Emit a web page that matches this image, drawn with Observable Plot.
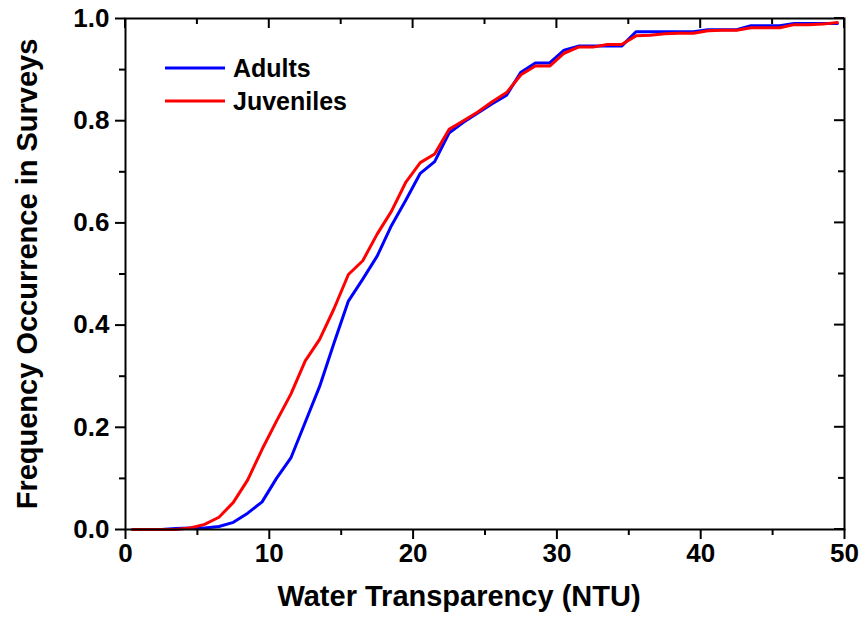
<!DOCTYPE html>
<html><head><meta charset="utf-8">
<script src="https://cdn.jsdelivr.net/npm/d3@7"></script>
<script src="https://cdn.jsdelivr.net/npm/@observablehq/plot@0.6"></script>
<style>body{margin:0;background:#fff;}</style>
</head><body><div id="chart"></div>
<script>
// Water transparency (NTU) bin centres
const ntu = [0.5,1.5,2.5,3.5,4.5,5.5,6.5,7.5,8.5,9.5,10.5,11.5,12.5,13.5,14.5,15.5,16.5,17.5,18.5,19.5,
  20.5,21.5,22.5,23.5,24.5,25.5,26.5,27.5,28.5,29.5,30.5,31.5,32.5,33.5,34.5,35.5,36.5,37.5,38.5,39.5,
  40.5,41.5,42.5,43.5,44.5,45.5,46.5,47.5,48.5,49.5];
// cumulative frequency occurrence, adults
const adults = [0,0,0,0.002,0.003,0.003,0.006,0.014,0.032,0.054,0.10,0.14,0.21,0.28,0.365,0.447,0.49,0.535,0.595,0.645,
  0.697,0.72,0.776,0.797,0.815,0.833,0.85,0.895,0.913,0.913,0.938,0.946,0.946,0.946,0.946,0.974,0.974,0.974,0.974,0.974,
  0.978,0.978,0.978,0.986,0.986,0.986,0.99,0.99,0.99,0.99];
// cumulative frequency occurrence, juveniles
const juveniles = [0,0,0,0,0.003,0.01,0.024,0.053,0.097,0.157,0.212,0.265,0.33,0.372,0.432,0.499,0.526,0.578,0.623,0.68,
  0.718,0.735,0.783,0.80,0.817,0.837,0.855,0.89,0.907,0.907,0.932,0.944,0.944,0.949,0.949,0.966,0.967,0.97,0.971,0.971,
  0.976,0.977,0.977,0.982,0.982,0.982,0.988,0.988,0.989,0.992];
const seriesNames = ["Adults", "Juveniles"];
const seriesColors = ["#0000ff", "#ff0000"];
const xMajor = [0, 10, 20, 30, 40, 50];
const xMinor = [5, 15, 25, 35, 45];
const yMajor = [0, 0.2, 0.4, 0.6, 0.8, 1.0];
const yMinor = [0.1, 0.3, 0.5, 0.7, 0.9];
const xTitle = "Water Transparency (NTU)";
const yTitle = "Frequency Occurrence in Surveys";

const seriesValues = [adults, juveniles];
const rows = seriesNames.flatMap((s, k) => ntu.map((x, i) => ({series: s, ntu: x, value: seriesValues[k][i]})));

const font = "'Liberation Sans', Arial, sans-serif";

// inward ticks on top/right and in-plot legend, drawn through the plot scales
function extras(index, scales, values, dimensions) {
  const {width, height, marginTop, marginRight, marginBottom, marginLeft} = dimensions;
  const g = d3.create("svg:g").attr("stroke", "black").attr("stroke-width", 2);
  const top = marginTop, right = width - marginRight;
  for (const v of xMajor) g.append("line").attr("x1", scales.x(v)).attr("x2", scales.x(v)).attr("y1", top).attr("y2", top + 10);
  for (const v of xMinor) g.append("line").attr("x1", scales.x(v)).attr("x2", scales.x(v)).attr("y1", top).attr("y2", top + 6);
  for (const v of yMajor) g.append("line").attr("y1", scales.y(v)).attr("y2", scales.y(v)).attr("x1", right).attr("x2", right - 10);
  for (const v of yMinor) g.append("line").attr("y1", scales.y(v)).attr("y2", scales.y(v)).attr("x1", right).attr("x2", right - 6);
  const lg = d3.create("svg:g");
  seriesNames.forEach((s, i) => {
    const y = marginTop + 50 + i * 33;
    const x0 = marginLeft + 40;
    lg.append("line").attr("x1", x0).attr("x2", x0 + 60).attr("y1", y).attr("y2", y)
      .attr("stroke", seriesColors[i]).attr("stroke-width", 3);
    lg.append("text").attr("x", x0 + 68).attr("y", y).attr("dy", "0.35em")
      .attr("text-anchor", "start")
      .attr("font-size", 25).attr("font-weight", "bold").attr("font-family", font).attr("fill", "black").text(s);
  });
  const outer = d3.create("svg:g");
  outer.append(() => g.node());
  outer.append(() => lg.node());
  return outer.node();
}

const chart = Plot.plot({
  width: 860, height: 625,
  marginLeft: 125, marginRight: 16, marginTop: 18, marginBottom: 96,
  style: {fontFamily: font, fontWeight: "bold", background: "white", color: "black"},
  x: {domain: [0, 50]},
  y: {domain: [0, 1]},
  color: {domain: seriesNames, range: seriesColors},
  marks: [
    Plot.axisX({ticks: xMajor, tickSize: 10, tickPadding: 4, tickFormat: d => d, fontSize: 26, label: null, strokeWidth: 2}),
    Plot.axisX({ticks: xMinor, tickSize: 6, tickFormat: () => "", label: null, strokeWidth: 2}),
    Plot.axisY({ticks: yMajor, tickSize: 10, tickPadding: 6, tickFormat: d3.format(".1f"), fontSize: 26, label: null, strokeWidth: 2}),
    Plot.axisY({ticks: yMinor, tickSize: 6, tickFormat: () => "", label: null, strokeWidth: 2}),
    Plot.line(rows, {x: "ntu", y: "value", stroke: "series", strokeWidth: 3}),
    Plot.frame({stroke: "black", strokeWidth: 2}),
    Plot.text([xTitle], {frameAnchor: "bottom", dy: 76, dx: -26, fontSize: 29, fontWeight: "bold"}),
    Plot.text([yTitle], {frameAnchor: "left", dx: -98, rotate: -90, textAnchor: "middle", lineAnchor: "middle", fontSize: 29, fontWeight: "bold"}),
    extras
  ]
});
document.getElementById("chart").appendChild(chart);
</script>
</body></html>
